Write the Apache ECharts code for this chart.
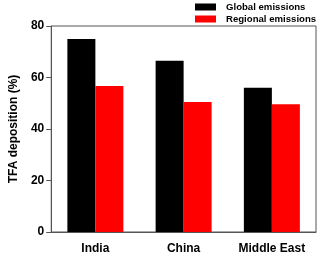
<!DOCTYPE html>
<html><head><meta charset="utf-8">
<script src="https://cdn.jsdelivr.net/npm/echarts@6/dist/echarts.min.js"></script>
<style>html,body{margin:0;padding:0;background:#fff}#c{width:320px;height:256px}</style>
</head><body><div id="c"></div>
<script>
const categories = ["India", "China", "Middle East"];
const globalEmissions = [75.0, 66.5, 56.0];
const regionalEmissions = [56.7, 50.5, 49.6];
const yTicks = [0, 20, 40, 60, 80];

const chart = echarts.init(document.getElementById('c'), null, {renderer: 'canvas'});
const ff = '"Liberation Sans", Arial, sans-serif';
chart.setOption({
  animation: false,
  textStyle: {fontFamily: ff},
  grid: {left: 42, right: 4, top: 26, bottom: 24, show: true, borderColor: '#555', borderWidth: 1},
  legend: {
    orient: 'vertical', left: 195, top: 2, padding: 0, itemWidth: 21, itemHeight: 7, itemGap: 2,
    icon: 'rect',
    formatter: function (n) { return '{s|}{t|' + n + '}'; },
    textStyle: {
      fontFamily: ff, fontWeight: 'bold', fontSize: 9.6, color: '#000',
      rich: {s: {width: 5}, t: {fontFamily: ff, fontWeight: 'bold', fontSize: 9.6, color: '#000'}}
    },
    data: ['Global emissions', 'Regional emissions']
  },
  xAxis: {
    type: 'category', data: categories,
    axisLine: {lineStyle: {color: '#555', width: 1}},
    axisTick: {alignWithLabel: true, length: 5, lineStyle: {color: '#555'}},
    axisLabel: {fontFamily: ff, fontWeight: 'bold', fontSize: 12, color: '#000', margin: 11}
  },
  yAxis: {
    type: 'value', min: yTicks[0], max: yTicks[yTicks.length-1], interval: 20,
    name: 'TFA deposition (%)', nameLocation: 'middle', nameGap: 29,
    nameTextStyle: {fontFamily: ff, fontWeight: 'bold', fontSize: 12, color: '#000'},
    axisLine: {show: true, lineStyle: {color: '#555', width: 1}},
    axisTick: {show: true, length: 5, lineStyle: {color: '#555'}},
    splitLine: {show: false},
    axisLabel: {fontFamily: ff, fontWeight: 'bold', fontSize: 12, color: '#000', margin: 7}
  },
  series: [
    {name: 'Global emissions', type: 'bar', data: globalEmissions, barWidth: 28, barGap: '0%', itemStyle: {color: '#000'}},
    {name: 'Regional emissions', type: 'bar', data: regionalEmissions, barWidth: 28, barGap: '0%', itemStyle: {color: '#ff0000'}}
  ]
});
</script></body></html>
